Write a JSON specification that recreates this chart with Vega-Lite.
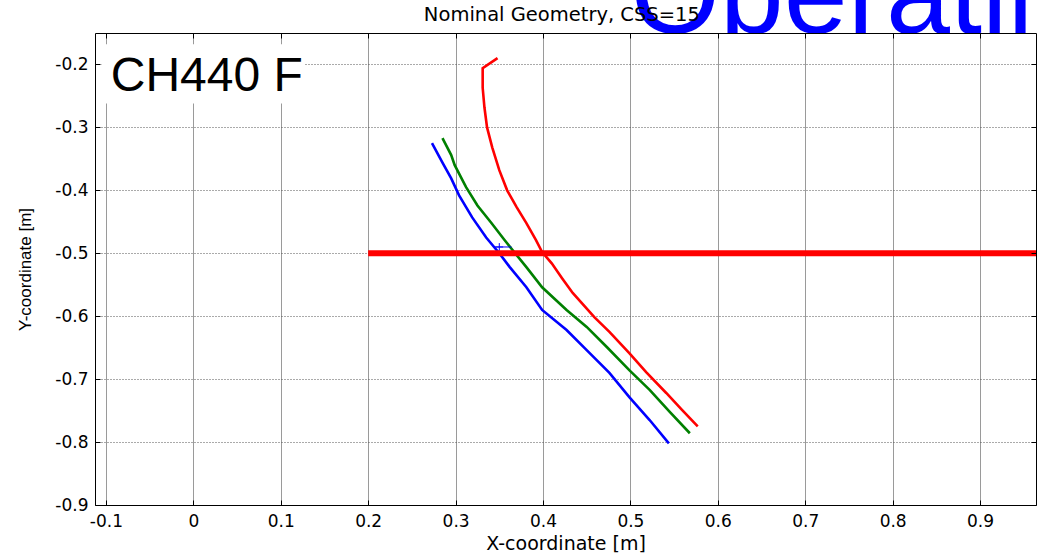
{
  "$schema": "https://vega.github.io/schema/vega-lite/v6.json",
  "width": 941,
  "height": 472,
  "autosize": {"type": "none"},
  "padding": {"left": 95, "top": 33, "right": 2, "bottom": 51},
  "background": "white",
  "config": {"view": {"stroke": null}},
  "datasets": {
    "lines": [
      {"s": "red", "i": 0, "x": 0.348, "y": -0.190},
      {"s": "red", "i": 1, "x": 0.331, "y": -0.206},
      {"s": "red", "i": 2, "x": 0.331, "y": -0.237},
      {"s": "red", "i": 3, "x": 0.333, "y": -0.268},
      {"s": "red", "i": 4, "x": 0.336, "y": -0.300},
      {"s": "red", "i": 5, "x": 0.342, "y": -0.332},
      {"s": "red", "i": 6, "x": 0.350, "y": -0.368},
      {"s": "red", "i": 7, "x": 0.359, "y": -0.400},
      {"s": "red", "i": 8, "x": 0.370, "y": -0.427},
      {"s": "red", "i": 9, "x": 0.381, "y": -0.452},
      {"s": "red", "i": 10, "x": 0.392, "y": -0.479},
      {"s": "red", "i": 11, "x": 0.399, "y": -0.498},
      {"s": "red", "i": 12, "x": 0.410, "y": -0.516},
      {"s": "red", "i": 13, "x": 0.422, "y": -0.540},
      {"s": "red", "i": 14, "x": 0.434, "y": -0.563},
      {"s": "red", "i": 15, "x": 0.459, "y": -0.602},
      {"s": "red", "i": 16, "x": 0.476, "y": -0.625},
      {"s": "red", "i": 17, "x": 0.499, "y": -0.659},
      {"s": "red", "i": 18, "x": 0.518, "y": -0.689},
      {"s": "red", "i": 19, "x": 0.541, "y": -0.722},
      {"s": "red", "i": 20, "x": 0.559, "y": -0.749},
      {"s": "red", "i": 21, "x": 0.577, "y": -0.775},
      {"s": "green", "i": 0, "x": 0.285, "y": -0.317},
      {"s": "green", "i": 1, "x": 0.295, "y": -0.344},
      {"s": "green", "i": 2, "x": 0.299, "y": -0.360},
      {"s": "green", "i": 3, "x": 0.312, "y": -0.395},
      {"s": "green", "i": 4, "x": 0.325, "y": -0.424},
      {"s": "green", "i": 5, "x": 0.341, "y": -0.452},
      {"s": "green", "i": 6, "x": 0.356, "y": -0.479},
      {"s": "green", "i": 7, "x": 0.367, "y": -0.498},
      {"s": "green", "i": 8, "x": 0.381, "y": -0.522},
      {"s": "green", "i": 9, "x": 0.399, "y": -0.554},
      {"s": "green", "i": 10, "x": 0.427, "y": -0.590},
      {"s": "green", "i": 11, "x": 0.450, "y": -0.617},
      {"s": "green", "i": 12, "x": 0.473, "y": -0.649},
      {"s": "green", "i": 13, "x": 0.499, "y": -0.686},
      {"s": "green", "i": 14, "x": 0.522, "y": -0.717},
      {"s": "green", "i": 15, "x": 0.545, "y": -0.752},
      {"s": "green", "i": 16, "x": 0.568, "y": -0.786},
      {"s": "blue", "i": 0, "x": 0.273, "y": -0.325},
      {"s": "blue", "i": 1, "x": 0.285, "y": -0.356},
      {"s": "blue", "i": 2, "x": 0.295, "y": -0.381},
      {"s": "blue", "i": 3, "x": 0.304, "y": -0.408},
      {"s": "blue", "i": 4, "x": 0.319, "y": -0.443},
      {"s": "blue", "i": 5, "x": 0.335, "y": -0.475},
      {"s": "blue", "i": 6, "x": 0.350, "y": -0.500},
      {"s": "blue", "i": 7, "x": 0.362, "y": -0.522},
      {"s": "blue", "i": 8, "x": 0.381, "y": -0.554},
      {"s": "blue", "i": 9, "x": 0.399, "y": -0.590},
      {"s": "blue", "i": 10, "x": 0.427, "y": -0.622},
      {"s": "blue", "i": 11, "x": 0.450, "y": -0.654},
      {"s": "blue", "i": 12, "x": 0.476, "y": -0.690},
      {"s": "blue", "i": 13, "x": 0.499, "y": -0.729},
      {"s": "blue", "i": 14, "x": 0.522, "y": -0.765},
      {"s": "blue", "i": 15, "x": 0.544, "y": -0.802}
    ],
    "ref": [{"x": 0.2, "y": -0.5}, {"x": 1.0, "y": -0.5}],
    "marker": [{"x": 0.350, "y": -0.490}],
    "markline": [{"x": 0.344, "y": -0.490}, {"x": 0.364, "y": -0.490}],
    "box": [{"x": -0.105, "x2": 0.127, "y": -0.168, "y2": -0.262}],
    "label": [{"x": -0.0945, "y": -0.2415, "t": "CH440 F"}],
    "banner": [{"x": 0.5, "y": -0.15, "t": "Operating"}],
    "mask": [{"x": 0.605, "x2": 0.632, "y": -0.15, "y2": -0.19}],
    "heading": [{"x": 0.4216, "y": -0.131, "t": "Nominal Geometry, CSS=15"}]
  },
  "layer": [
    {
      "data": {"name": "box"},
      "mark": {"type": "rect", "fill": "white", "stroke": null},
      "encoding": {
        "x": {"field": "x", "type": "quantitative", "axis": null, "scale": {"domain": [-0.1125, 0.964], "nice": false, "zero": false}},
        "x2": {"field": "x2"},
        "y": {"field": "y", "type": "quantitative", "axis": null, "scale": {"domain": [-0.9, -0.15], "nice": false, "zero": false}},
        "y2": {"field": "y2"}
      }
    },
    {
      "data": {"name": "label"},
      "mark": {"type": "text", "font": "Liberation Sans", "fontSize": 48, "align": "left", "baseline": "alphabetic", "color": "black"},
      "encoding": {
        "x": {"field": "x", "type": "quantitative", "axis": null, "scale": {"domain": [-0.1125, 0.964], "nice": false, "zero": false}},
        "y": {"field": "y", "type": "quantitative", "axis": null, "scale": {"domain": [-0.9, -0.15], "nice": false, "zero": false}},
        "text": {"field": "t"}
      }
    },
    {
      "data": {"name": "lines"},
      "mark": {"type": "line", "strokeWidth": 2.6, "clip": true},
      "encoding": {
        "x": {"field": "x", "type": "quantitative", "scale": {"domain": [-0.1125, 0.964], "nice": false, "zero": false},
          "axis": {"values": [-0.1, 0, 0.1, 0.2, 0.3, 0.4, 0.5, 0.6, 0.7, 0.8, 0.9], "labelExpr": "'' + datum.value",
            "title": "X-coordinate [m]", "titleFont": "DejaVu Sans", "titleFontSize": 19, "titleFontWeight": "normal", "titleColor": "black", "titlePadding": 5,
            "labelFont": "DejaVu Sans", "labelFontSize": 17, "labelColor": "black", "labelPadding": 13, "labelFlush": false, "labelOverlap": false, "labelBound": false,
            "tickSize": -5, "tickColor": "black", "domainColor": "black", "domainWidth": 1,
            "grid": true, "gridColor": "#9a9a9a", "gridWidth": 1}},
        "y": {"field": "y", "type": "quantitative", "scale": {"domain": [-0.9, -0.15], "nice": false, "zero": false},
          "axis": {"values": [-0.9, -0.8, -0.7, -0.6, -0.5, -0.4, -0.3, -0.2], "labelExpr": "'' + datum.value",
            "title": "Y-coordinate [m]", "titleFont": "Liberation Sans", "titleFontSize": 17, "titleFontWeight": "normal", "titleColor": "black", "titlePadding": 20,
            "labelFont": "DejaVu Sans", "labelFontSize": 17, "labelColor": "black", "labelPadding": 12, "labelFlush": false, "labelOverlap": false, "labelBound": false,
            "tickSize": -5, "tickColor": "black", "domainColor": "black", "domainWidth": 1,
            "grid": true, "gridColor": "#555555", "gridWidth": 1, "gridDash": [1, 2]}},
        "color": {"field": "s", "type": "nominal", "legend": null, "scale": {"domain": ["blue", "green", "red"], "range": ["#0000ff", "#008000", "#ff0000"]}},
        "order": {"field": "i", "type": "quantitative"}
      }
    },
    {
      "data": {"name": "markline"},
      "mark": {"type": "line", "strokeWidth": 1, "color": "#0000ff"},
      "encoding": {
        "x": {"field": "x", "type": "quantitative", "axis": null, "scale": {"domain": [-0.1125, 0.964], "nice": false, "zero": false}},
        "y": {"field": "y", "type": "quantitative", "axis": null, "scale": {"domain": [-0.9, -0.15], "nice": false, "zero": false}}
      }
    },
    {
      "data": {"name": "marker"},
      "mark": {"type": "point", "shape": "M-1,0H1M0,-1V1", "filled": false, "stroke": "#0000ff", "strokeWidth": 1, "size": 60, "opacity": 1},
      "encoding": {
        "x": {"field": "x", "type": "quantitative", "axis": null, "scale": {"domain": [-0.1125, 0.964], "nice": false, "zero": false}},
        "y": {"field": "y", "type": "quantitative", "axis": null, "scale": {"domain": [-0.9, -0.15], "nice": false, "zero": false}}
      }
    },
    {
      "data": {"name": "banner"},
      "mark": {"type": "text", "font": "Liberation Sans", "fontSize": 115, "align": "left", "baseline": "alphabetic", "color": "#0000ff"},
      "encoding": {
        "x": {"field": "x", "type": "quantitative", "axis": null, "scale": {"domain": [-0.1125, 0.964], "nice": false, "zero": false}},
        "y": {"field": "y", "type": "quantitative", "axis": null, "scale": {"domain": [-0.9, -0.15], "nice": false, "zero": false}},
        "text": {"field": "t"}
      }
    },
    {
      "data": {"name": "mask"},
      "mark": {"type": "rect", "fill": "white", "stroke": null},
      "encoding": {
        "x": {"field": "x", "type": "quantitative", "axis": null, "scale": {"domain": [-0.1125, 0.964], "nice": false, "zero": false}},
        "x2": {"field": "x2"},
        "y": {"field": "y", "type": "quantitative", "axis": null, "scale": {"domain": [-0.9, -0.15], "nice": false, "zero": false}},
        "y2": {"field": "y2"}
      }
    },
    {
      "data": {"name": "heading"},
      "mark": {"type": "text", "font": "DejaVu Sans", "fontSize": 19.5, "align": "center", "baseline": "alphabetic", "color": "black"},
      "encoding": {
        "x": {"field": "x", "type": "quantitative", "axis": null, "scale": {"domain": [-0.1125, 0.964], "nice": false, "zero": false}},
        "y": {"field": "y", "type": "quantitative", "axis": null, "scale": {"domain": [-0.9, -0.15], "nice": false, "zero": false}},
        "text": {"field": "t"}
      }
    },
    {
      "data": {"name": "ref"},
      "mark": {"type": "line", "strokeWidth": 6, "color": "#ff0000", "clip": true},
      "encoding": {
        "x": {"field": "x", "type": "quantitative", "scale": {"domain": [-0.1125, 0.964], "nice": false, "zero": false},
          "axis": {"orient": "top", "values": [-0.1, 0, 0.1, 0.2, 0.3, 0.4, 0.5, 0.6, 0.7, 0.8, 0.9], "labels": false, "title": null, "grid": false,
            "tickSize": -5, "tickColor": "black", "domainColor": "black", "domainWidth": 1, "zindex": 1}},
        "y": {"field": "y", "type": "quantitative", "scale": {"domain": [-0.9, -0.15], "nice": false, "zero": false},
          "axis": {"orient": "right", "values": [-0.9, -0.8, -0.7, -0.6, -0.5, -0.4, -0.3, -0.2], "labels": false, "title": null, "grid": false,
            "tickSize": -5, "tickColor": "black", "domainColor": "black", "domainWidth": 1, "zindex": 1}}
      }
    }
  ],
  "resolve": {"axis": {"x": "independent", "y": "independent"}}
}
